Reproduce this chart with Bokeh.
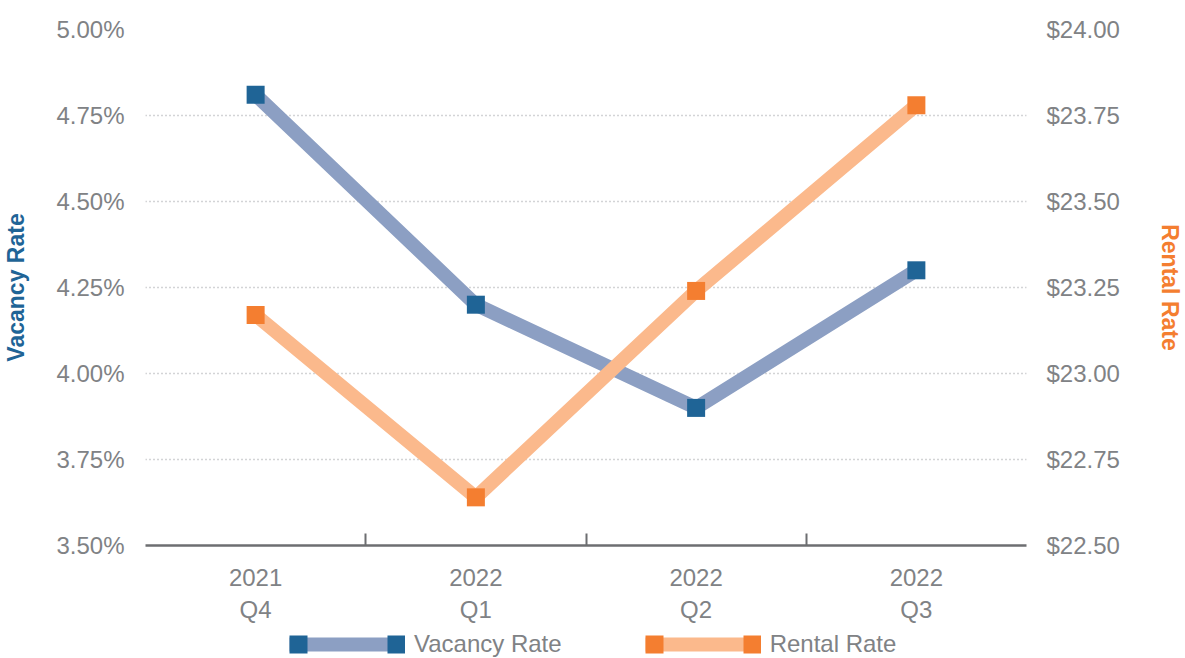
from bokeh.plotting import figure
from bokeh.layouts import column
from bokeh.models import (Range1d, LinearAxis, FixedTicker, PrintfTickFormatter,
                          Legend, LegendItem)
from bokeh.embed import file_html
from bokeh.resources import INLINE

# ---- data ----
quarters = ["2021\nQ4", "2022\nQ1", "2022\nQ2", "2022\nQ3"]
vacancy = [4.81, 4.20, 3.90, 4.30]          # %
rental = [23.17, 22.64, 23.24, 23.78]        # $
vac_ticks = [3.50, 3.75, 4.00, 4.25, 4.50, 4.75, 5.00]
rent_ticks = [22.50, 22.75, 23.00, 23.25, 23.50, 23.75, 24.00]

# ---- style ----
FONT = "Liberation Sans"
GRAY = "#808285"
AXIS_GRAY = "#6d6e71"
VAC_LINE = "#8c9fc3"
VAC_MARK = "#1f6496"
RENT_LINE = "#fbb98c"
RENT_MARK = "#f47e30"

x = list(range(len(quarters)))

p = figure(width=1185, height=630, output_backend="svg", toolbar_location=None,
           x_range=Range1d(-0.5, len(quarters) - 0.5),
           y_range=Range1d(vac_ticks[0], vac_ticks[-1]),
           min_border_left=145, min_border_right=156,
           min_border_top=29, min_border_bottom=85)
p.outline_line_color = None
p.background_fill_color = "white"
p.border_fill_color = "white"
p.extra_y_ranges = {"rent": Range1d(rent_ticks[0], rent_ticks[-1])}

# x axis
xa = p.xaxis[0]
xa.ticker = FixedTicker(ticks=x, minor_ticks=[i + 0.5 for i in x[:-1]])
xa.major_label_overrides = {i: q for i, q in zip(x, quarters)}
xa.major_tick_line_color = None
xa.minor_tick_in = 12
xa.minor_tick_out = 0
xa.minor_tick_line_color = AXIS_GRAY
xa.minor_tick_line_width = 2
xa.axis_line_color = AXIS_GRAY
xa.axis_line_width = 2.5
xa.major_label_text_font = FONT
xa.major_label_text_font_size = "24px"
xa.major_label_text_color = GRAY
xa.major_label_standoff = 12
xa.major_label_text_line_height = 1.2
p.xgrid.visible = False

# left axis
ya = p.yaxis[0]
ya.ticker = FixedTicker(ticks=vac_ticks)
ya.formatter = PrintfTickFormatter(format="%.2f%%")
ya.axis_line_color = None
ya.major_tick_line_color = None
ya.minor_tick_line_color = None
ya.major_label_text_font = FONT
ya.major_label_text_font_size = "24px"
ya.major_label_text_color = GRAY
ya.major_label_standoff = 15
ya.axis_label = "Vacancy Rate"
ya.axis_label_text_font = FONT
ya.axis_label_text_font_size = "23px"
ya.axis_label_text_font_style = "bold"
ya.axis_label_text_color = VAC_MARK
ya.axis_label_standoff = 24

p.ygrid.ticker = FixedTicker(ticks=vac_ticks)
p.ygrid.grid_line_color = "#a7a9ac"
p.ygrid.grid_line_dash = "1 3"
p.ygrid.grid_line_width = 1.5

# right axis
ra = LinearAxis(y_range_name="rent", ticker=FixedTicker(ticks=rent_ticks),
                formatter=PrintfTickFormatter(format="$%.2f"))
ra.axis_line_color = None
ra.major_tick_line_color = None
ra.minor_tick_line_color = None
ra.major_label_text_font = FONT
ra.major_label_text_font_size = "24px"
ra.major_label_text_color = GRAY
ra.major_label_standoff = 14
ra.axis_label = "Rental Rate"
ra.axis_label_text_font = FONT
ra.axis_label_text_font_size = "23px"
ra.axis_label_text_font_style = "bold"
ra.axis_label_text_color = RENT_MARK
ra.axis_label_standoff = 34
p.add_layout(ra, "right")

# series
p.line(x, vacancy, line_color=VAC_LINE, line_width=14)
p.scatter(x, vacancy, marker="square", size=18, fill_color=VAC_MARK, line_color=None)
p.line(x, rental, line_color=RENT_LINE, line_width=14, y_range_name="rent")
p.scatter(x, rental, marker="square", size=18, fill_color=RENT_MARK, line_color=None,
          y_range_name="rent")

# ---- legend strip (separate figure below the chart) ----
lp = figure(width=1185, height=28, output_backend="svg", toolbar_location=None,
            x_axis_type=None, y_axis_type=None,
            min_border_left=145, min_border_right=156, min_border_top=0, min_border_bottom=0)
lp.outline_line_color = None
lp.grid.visible = False
lp.border_fill_color = "white"

vl = lp.line(x, vacancy, line_color=VAC_LINE, line_width=14, visible=False)
vd = lp.line(x, vacancy, line_color=VAC_MARK, line_width=18, line_dash="18 80", visible=False)
rl = lp.line(x, rental, line_color=RENT_LINE, line_width=14, visible=False)
rd = lp.line(x, rental, line_color=RENT_MARK, line_width=18, line_dash="18 80", visible=False)

legend = Legend(items=[LegendItem(label="Vacancy Rate", renderers=[vl, vd]),
                       LegendItem(label="Rental Rate", renderers=[rl, rd])],
                orientation="horizontal", location=(144, 0),
                glyph_width=116, glyph_height=20, label_standoff=9, spacing=83,
                padding=0, margin=0, border_line_color=None, background_fill_alpha=0,
                label_text_font=FONT, label_text_font_size="24px",
                label_text_color=GRAY, label_height=28)
lp.add_layout(legend, "center")

open("out.html", "w").write(file_html(column(p, lp, spacing=0), INLINE))
